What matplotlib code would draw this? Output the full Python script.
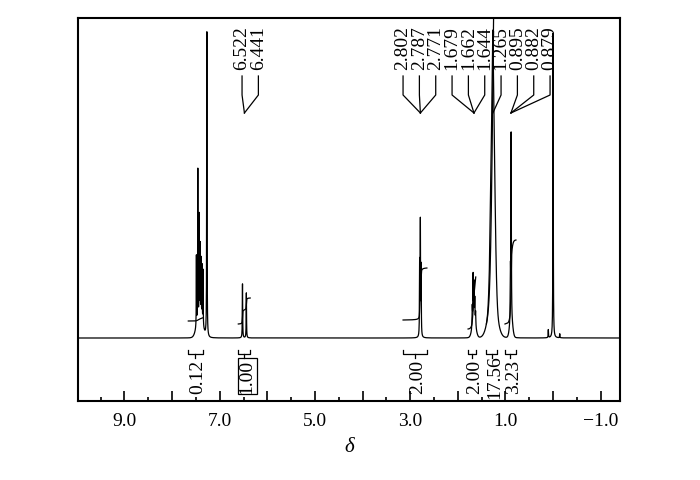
import numpy as np
import matplotlib
matplotlib.use("Agg")
import matplotlib.pyplot as plt
from matplotlib.ticker import FixedLocator, MultipleLocator, FuncFormatter

plt.rcParams['font.family'] = ['Liberation Serif', 'DejaVu Serif']
plt.rcParams['axes.unicode_minus'] = True

# ---------------- data ----------------
# sharp lines (ppm, height in arbitrary units, Lorentz half width in ppm)
line_ppm = [7.49, 7.46, 7.43, 7.41, 7.39, 7.37, 7.35, 7.27,
            6.522, 6.441,
            2.802, 2.787, 2.771,
            1.697, 1.679, 1.662, 1.644, 1.627,
            1.265,
            0.895, 0.882, 0.879,
            0.10, 0.00, -0.14]
line_height = [70, 150, 100, 70, 58, 55, 55, 305,
               54, 45,
               72, 112, 68,
               20, 48, 38, 24, 14,
               55,
               45, 118, 92,
               8, 305, 4]
line_hw = [0.003, 0.003, 0.003, 0.003, 0.003, 0.003, 0.003, 0.004,
           0.004, 0.004,
           0.004, 0.004, 0.004,
           0.005, 0.005, 0.005, 0.005, 0.005,
           0.008,
           0.004, 0.004, 0.004,
           0.004, 0.004, 0.004]
# broad underlying humps (ppm, height, gaussian sigma in ppm)
hump_ppm = [7.42, 1.66, 1.265, 1.27, 0.88]
hump_height = [22, 14, 215, 38, 18]
hump_sigma = [0.06, 0.04, 0.04, 0.09, 0.03]

# peak labels (groups share one leader point)
label_groups = [[6.522, 6.441],
                [2.802, 2.787, 2.771],
                [1.679, 1.662, 1.644],
                [1.265],
                [0.895, 0.882, 0.879]]
label_texts = [["6.522", "6.441"],
               ["2.802", "2.787", "2.771"],
               ["1.679", "1.662", "1.644"],
               ["1.265"],
               ["0.895", "0.882", "0.879"]]

# integrals
int_start = [7.66, 6.61, 3.15, 1.785, 1.40, 1.01]
int_end = [7.36, 6.36, 2.65, 1.624, 1.18, 0.78]
int_value = [0.12, 1.00, 2.00, 2.00, 17.56, 3.23]
int_text = ["0.12", "1.00", "2.00", "2.00", "17.56", "3.23"]
int_offset = [17, 14, 18, 9, 14, 14]

tick_major = [9, 8, 7, 6, 5, 4, 3, 2, 1, 0, -1]

# ---------------- spectrum ----------------
ppm = np.arange(-1.5, 10.0, 0.0005)
spec = np.zeros_like(ppm)
for c, h, w in zip(line_ppm, line_height, line_hw):
    spec += h / (1 + ((ppm - c) / w) ** 2)
for c, h, s in zip(hump_ppm, hump_height, hump_sigma):
    spec += h * np.exp(-0.5 * ((ppm - c) / s) ** 2)

fig = plt.figure(figsize=(7.0, 4.81), dpi=100)
L, R, T, B = 78.3, 620.0, 19.0, 402.0
ax = fig.add_axes([L / 700, 1 - B / 481, (R - L) / 700, (B - T) / 481])
ax.set_xlim(9.97, -1.405)
ax.set_ylim(-63, 320)

ax.plot(ppm, spec, color='black', lw=0.9)

# integral traces
px_per_unit = 26
for a, b, v, off in zip(int_start, int_end, int_value, int_offset):
    m = (ppm <= a) & (ppm >= b)
    xs = ppm[m][::-1]
    cs = np.cumsum(spec[m][::-1])
    ys = off + v * px_per_unit * cs / cs[-1]
    ax.plot(xs, ys, color='black', lw=0.9)

# integral brackets and labels
for a, b, t in zip(int_start, int_end, int_text):
    mid = (a + b) / 2
    ax.plot([a, a, b, b], [-12, -16, -16, -12], color='black', lw=0.9)
    ax.plot([mid, mid], [-16, -20], color='black', lw=0.9)
    kw = dict(rotation=90, ha='center', va='center', fontsize=14)
    if t == "1.00":
        kw['bbox'] = dict(boxstyle='square,pad=0.05', fc='none', ec='black', lw=0.9)
    ax.annotate(t, (mid, -38), xytext=(2, 0), textcoords='offset points', **kw)

# peak labels with leaders
spacing = 0.343
clusters = [([0], 6.36), ([1, 2, 3, 4], 1.607)]
y_text, y_top, y_kink, y_conv = 269, 262, 243, 225
for gidx, center in clusters:
    items = []
    for g in gidx:
        conv = float(np.mean(label_groups[g]))
        for t in label_texts[g]:
            items.append((t, conv))
    n = len(items)
    for i, (t, conv) in enumerate(items):
        lx = center + ((n - 1) / 2 - i) * spacing
        ax.text(lx, y_text, t, rotation=90, ha='center', va='bottom', fontsize=14)
        ax.plot([lx, lx, conv], [y_top, y_kink, y_conv], color='black', lw=0.9)

# axes styling
for s in ax.spines.values():
    s.set_linewidth(1.5)
ax.set_yticks([])
ax.xaxis.set_major_locator(FixedLocator(tick_major))
ax.xaxis.set_minor_locator(MultipleLocator(0.5))
ax.xaxis.set_major_formatter(FuncFormatter(
    lambda v, p: (f"{v:.1f}".replace('-', '\u2212')) if round(v) % 2 == 1 else ""))
ax.tick_params(axis='x', which='major', direction='in', length=7, width=1.2,
               labelsize=14, pad=8)
ax.tick_params(axis='x', which='minor', direction='in', length=3, width=1.2)
ax.set_xlabel("δ", fontsize=15, fontstyle='italic', labelpad=6)

fig.savefig("out.png", dpi=100)
